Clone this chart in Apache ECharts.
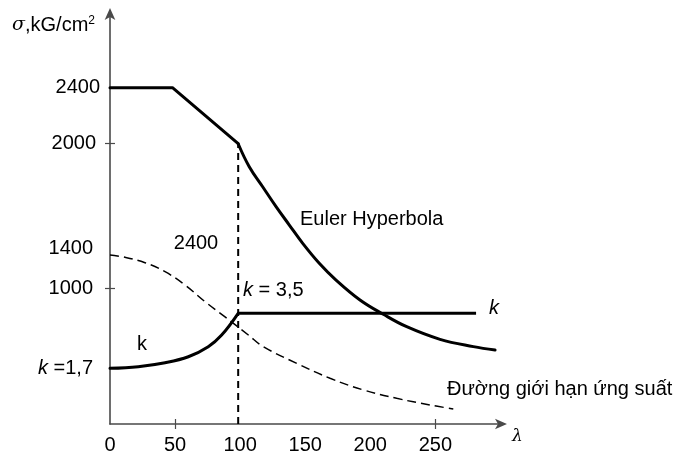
<!DOCTYPE html>
<html>
<head>
<meta charset="utf-8">
<script src="https://cdn.jsdelivr.net/npm/echarts@6/dist/echarts.min.js"></script>
<style>
html,body{margin:0;padding:0;background:#fff;}
#c{width:689px;height:456px;}
</style>
</head>
<body>
<div id="c"></div>
<script>
// ---- data (λ, σ) ----
const xMax = 302;
const yMax = 2940;
const plateau = [[0, 2400], [48, 2400], [98.5, 2000]];
const euler = [[98.5, 2000], [107, 1836], [117.3, 1693], [127.6, 1551], [137.8, 1420], [148.1, 1289],
  [160.8, 1147], [173.7, 1027], [192.1, 885], [210, 783], [228, 694], [253.6, 604], [279.2, 552], [295.9, 528]];
const kCurve = [[0, 397], [21.7, 409], [42.3, 437], [60.2, 480], [75.5, 552], [85.8, 635], [98.5, 790]];
const kFlat = [[98.5, 790], [281.3, 790]];
const limitCurve = [[0, 1206], [11.5, 1190], [26.9, 1151], [42.3, 1087], [57.6, 992], [73, 873], [88.4, 764],
  [106.3, 635], [117.8, 552], [143.5, 433], [169.1, 326], [194.7, 243], [220.3, 183], [245.9, 136], [263.8, 107]];
const vLine = [[98.5, 0], [98.5, 2000]];

const xTickLabels = [0, 50, 100, 150, 200, 250];
const xTickMarks = [50, 250];
const yTickPos = [2400, 2000, 1250, 970, 397];
const yTickLabels = ['{a|2400}', '{b|2000}', '{c|1400}', '{c|1000}', '{ci|k} {c|=1,7}'];
const yTickMarks = [2000, 970];

const FONT = 'Liberation Sans, Arial, sans-serif';
const FS = 20;
const axisColor = '#4a4a4a';

const chart = echarts.init(document.getElementById('c'), null, {renderer: 'canvas'});

const baseX = {
  type: 'value', min: 0, max: xMax, gridIndex: 0, position: 'bottom',
  splitLine: {show: false}
};
const baseY = {
  type: 'value', min: 0, max: yMax, gridIndex: 0, position: 'left',
  splitLine: {show: false}
};
const lbl = {fontFamily: FONT, fontSize: FS, color: '#000'};

const option = {
  animation: false,
  backgroundColor: '#fff',
  grid: {left: 110, top: 12, width: 393, height: 412, containLabel: false},
  xAxis: [
    Object.assign({}, baseX, {
      name: 'λ', nameLocation: 'end', nameGap: 9,
      nameTextStyle: {fontFamily: 'DejaVu Serif', fontStyle: 'italic', fontSize: 17, color: '#000', verticalAlign: 'top', padding: [4, 0, 0, 0]},
      axisLine: {show: true, lineStyle: {color: axisColor, width: 1.6}, symbol: ['none', 'arrow'], symbolSize: [8, 12], symbolOffset: [0, 4]},
      axisTick: {show: true, length: 5, lineStyle: {color: axisColor, width: 1.2}, customValues: xTickMarks},
      axisLabel: {show: true, customValues: xTickLabels, margin: 11, color: '#000', fontFamily: FONT, fontSize: FS}
    }),
    Object.assign({}, baseX, {
      axisLine: {show: false},
      axisTick: {show: true, inside: true, length: 5, lineStyle: {color: axisColor, width: 1.2}, customValues: xTickMarks},
      axisLabel: {show: false}
    })
  ],
  yAxis: [
    Object.assign({}, baseY, {
      name: '{i|σ},kG/cm{s|2}', nameLocation: 'end', nameGap: -13,
      nameTextStyle: {
        align: 'right', verticalAlign: 'middle', padding: [0, 15, 0, 0],
        color: '#000', fontFamily: FONT, fontSize: FS,
        rich: {
          i: {fontFamily: 'DejaVu Serif', fontStyle: 'italic', fontSize: 19, color: '#000'},
          s: {fontFamily: FONT, fontSize: 12, color: '#000', verticalAlign: 'top', padding: [0, 0, 9, 0]}
        }
      },
      axisLine: {show: true, lineStyle: {color: axisColor, width: 1.6}, symbol: ['none', 'arrow'], symbolSize: [8, 12], symbolOffset: [0, 4]},
      axisTick: {show: true, length: 5, lineStyle: {color: axisColor, width: 1.2}, customValues: yTickMarks},
      axisLabel: {
        show: true, customValues: yTickPos, margin: 10, color: '#000', fontFamily: FONT, fontSize: FS,
        formatter: function (v) { const i = yTickPos.indexOf(v); return i >= 0 ? yTickLabels[i] : ''; },
        rich: {
          a: Object.assign({}, lbl),
          b: Object.assign({padding: [0, 4, 0, 0]}, lbl),
          c: Object.assign({padding: [0, 7, 0, 0]}, lbl),
          ci: Object.assign({fontStyle: 'italic'}, lbl)
        }
      }
    }),
    Object.assign({}, baseY, {
      axisLine: {show: false},
      axisTick: {show: true, inside: true, length: 5, lineStyle: {color: axisColor, width: 1.2}, customValues: yTickMarks},
      axisLabel: {show: false}
    })
  ],
  series: [
    {type: 'line', data: vLine, symbol: 'none', lineStyle: {color: '#000', width: 2, type: [7, 5]}, z: 2},
    {type: 'line', data: limitCurve, symbol: 'none', smooth: 0.4, lineStyle: {color: '#000', width: 1.5, type: [9, 5]}, z: 3},
    {type: 'line', data: plateau, symbol: 'none', lineStyle: {color: '#000', width: 3, cap: 'round', join: 'round'}, z: 4},
    {type: 'line', data: euler, symbol: 'none', smooth: 0.4, lineStyle: {color: '#000', width: 3, cap: 'round'}, z: 4},
    {type: 'line', data: kCurve, symbol: 'none', smooth: 0.4, lineStyle: {color: '#000', width: 3, cap: 'round'}, z: 4},
    {type: 'line', data: kFlat, symbol: 'none', lineStyle: {color: '#000', width: 3, join: 'round'}, z: 4}
  ],
  graphic: [
    {type: 'text', x: 196, y: 243, style: {text: '2400', font: FS + 'px ' + FONT, fill: '#000', align: 'center', verticalAlign: 'middle'}},
    {type: 'text', x: 300, y: 219, style: {text: 'Euler Hyperbola', font: FS + 'px ' + FONT, fill: '#000', align: 'left', verticalAlign: 'middle'}},
    {type: 'text', x: 243, y: 290, style: {text: '{i|k} = 3,5', font: FS + 'px ' + FONT, fill: '#000', align: 'left', verticalAlign: 'middle',
      rich: {i: {fontStyle: 'italic', fontSize: FS, fontFamily: FONT, fill: '#000'}}}},
    {type: 'text', x: 494, y: 308, style: {text: 'k', font: 'italic ' + FS + 'px ' + FONT, fill: '#000', align: 'center', verticalAlign: 'middle'}},
    {type: 'text', x: 142, y: 344, style: {text: 'k', font: FS + 'px ' + FONT, fill: '#000', align: 'center', verticalAlign: 'middle'}},
    {type: 'text', x: 447, y: 389, style: {text: 'Đường giới hạn ứng suất', font: FS + 'px ' + FONT, fill: '#000', align: 'left', verticalAlign: 'middle'}}
  ]
};
chart.setOption(option);
</script>
</body>
</html>
